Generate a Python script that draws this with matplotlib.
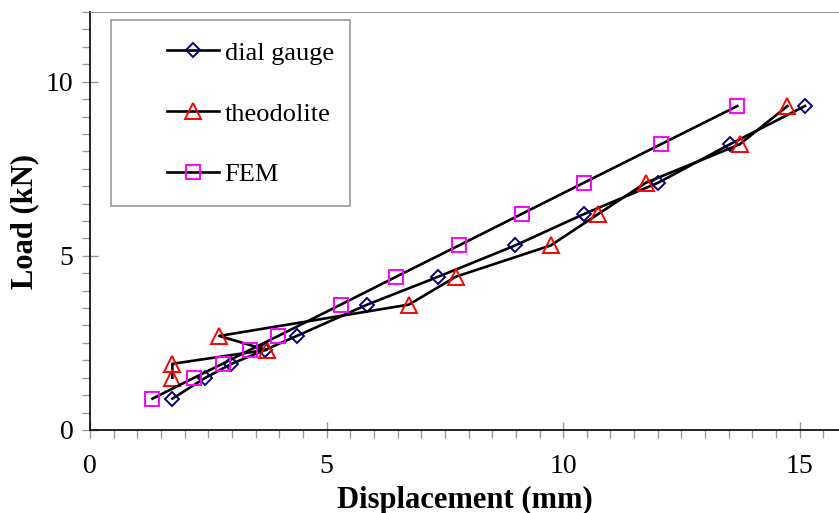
import matplotlib.pyplot as plt
from matplotlib.patches import Rectangle
from matplotlib.ticker import MultipleLocator

# load steps (kN)
load = [0.9, 1.5, 1.9, 2.3, 2.7, 3.6, 4.4, 5.3, 6.2, 7.1, 8.2, 9.3]

# displacement readings (mm)
dial_gauge = [1.74, 2.44, 2.99, 3.70, 4.37, 5.86, 7.36, 8.99, 10.44, 12.01, 13.52, 15.11]
fem = [1.32, 2.20, 2.80, 3.38, 3.98, 5.30, 6.47, 7.80, 9.12, 10.44, 12.06, 13.68]

# theodolite has no reading at the first load step
theo_load = [1.5, 1.9, 2.3, 2.7, 3.6, 4.4, 5.3, 6.2, 7.1, 8.2, 9.3]
theodolite = [1.74, 1.74, 3.73, 2.73, 6.74, 7.73, 9.74, 10.74, 11.75, 13.73, 14.74]

plt.rcParams['font.family'] = ['Liberation Serif', 'DejaVu Serif']

fig = plt.figure(figsize=(8.39, 5.13), dpi=100)
ax = fig.add_axes([0.1073, 0.1618, 0.8927, 0.8148])

line_kw = dict(color='black', lw=1.9, mfc='none', mew=1.4)
ax.plot(dial_gauge, load, marker='D', ms=7, mec='#000080', label='dial gauge', **line_kw)
ax.plot(theodolite, theo_load, marker='^', ms=11, mec='#FF0000', label='theodolite', **line_kw)
ax.plot(fem, load, marker='s', ms=10.5, mec='#FF00FF', label='FEM', **line_kw)

ax.set_xlim(0, 15.83)
ax.set_ylim(0, 12)
ax.xaxis.set_major_locator(MultipleLocator(5))
ax.xaxis.set_minor_locator(MultipleLocator(0.5))
ax.yaxis.set_major_locator(MultipleLocator(5))
ax.yaxis.set_minor_locator(MultipleLocator(0.5))
ax.tick_params(which='major', direction='inout', length=12, width=1, color='#999999',
               labelsize=20)
ax.tick_params(axis='x', which='major', pad=11)
ax.tick_params(axis='y', which='major', pad=6)
ax.tick_params(which='minor', direction='out', length=6, width=1, color='#999999')

ax.spines['right'].set_visible(False)
ax.spines['top'].set_color('#999999')
ax.spines['left'].set_linewidth(1.2)
ax.spines['bottom'].set_linewidth(1.2)

ax.set_xlabel('Displacement (mm)', fontsize=22, fontweight='bold', labelpad=5)
ax.set_ylabel('Load (kN)', fontsize=22, fontweight='bold', labelpad=5)

# legend: entries without frame, box drawn separately
leg = ax.legend(loc='upper left', bbox_to_anchor=(146 / 839, 1 - 20 / 513),
                bbox_transform=fig.transFigure, frameon=False, fontsize=19,
                handlelength=1.95, handletextpad=0.23, labelspacing=1.42, borderpad=0.3)
fig.patches.append(Rectangle((111 / 839, 1 - 206 / 513), 239 / 839, 186 / 513,
                             transform=fig.transFigure, fill=False, ec='#999999', lw=1.2))

fig.savefig('out.png', dpi=100)
